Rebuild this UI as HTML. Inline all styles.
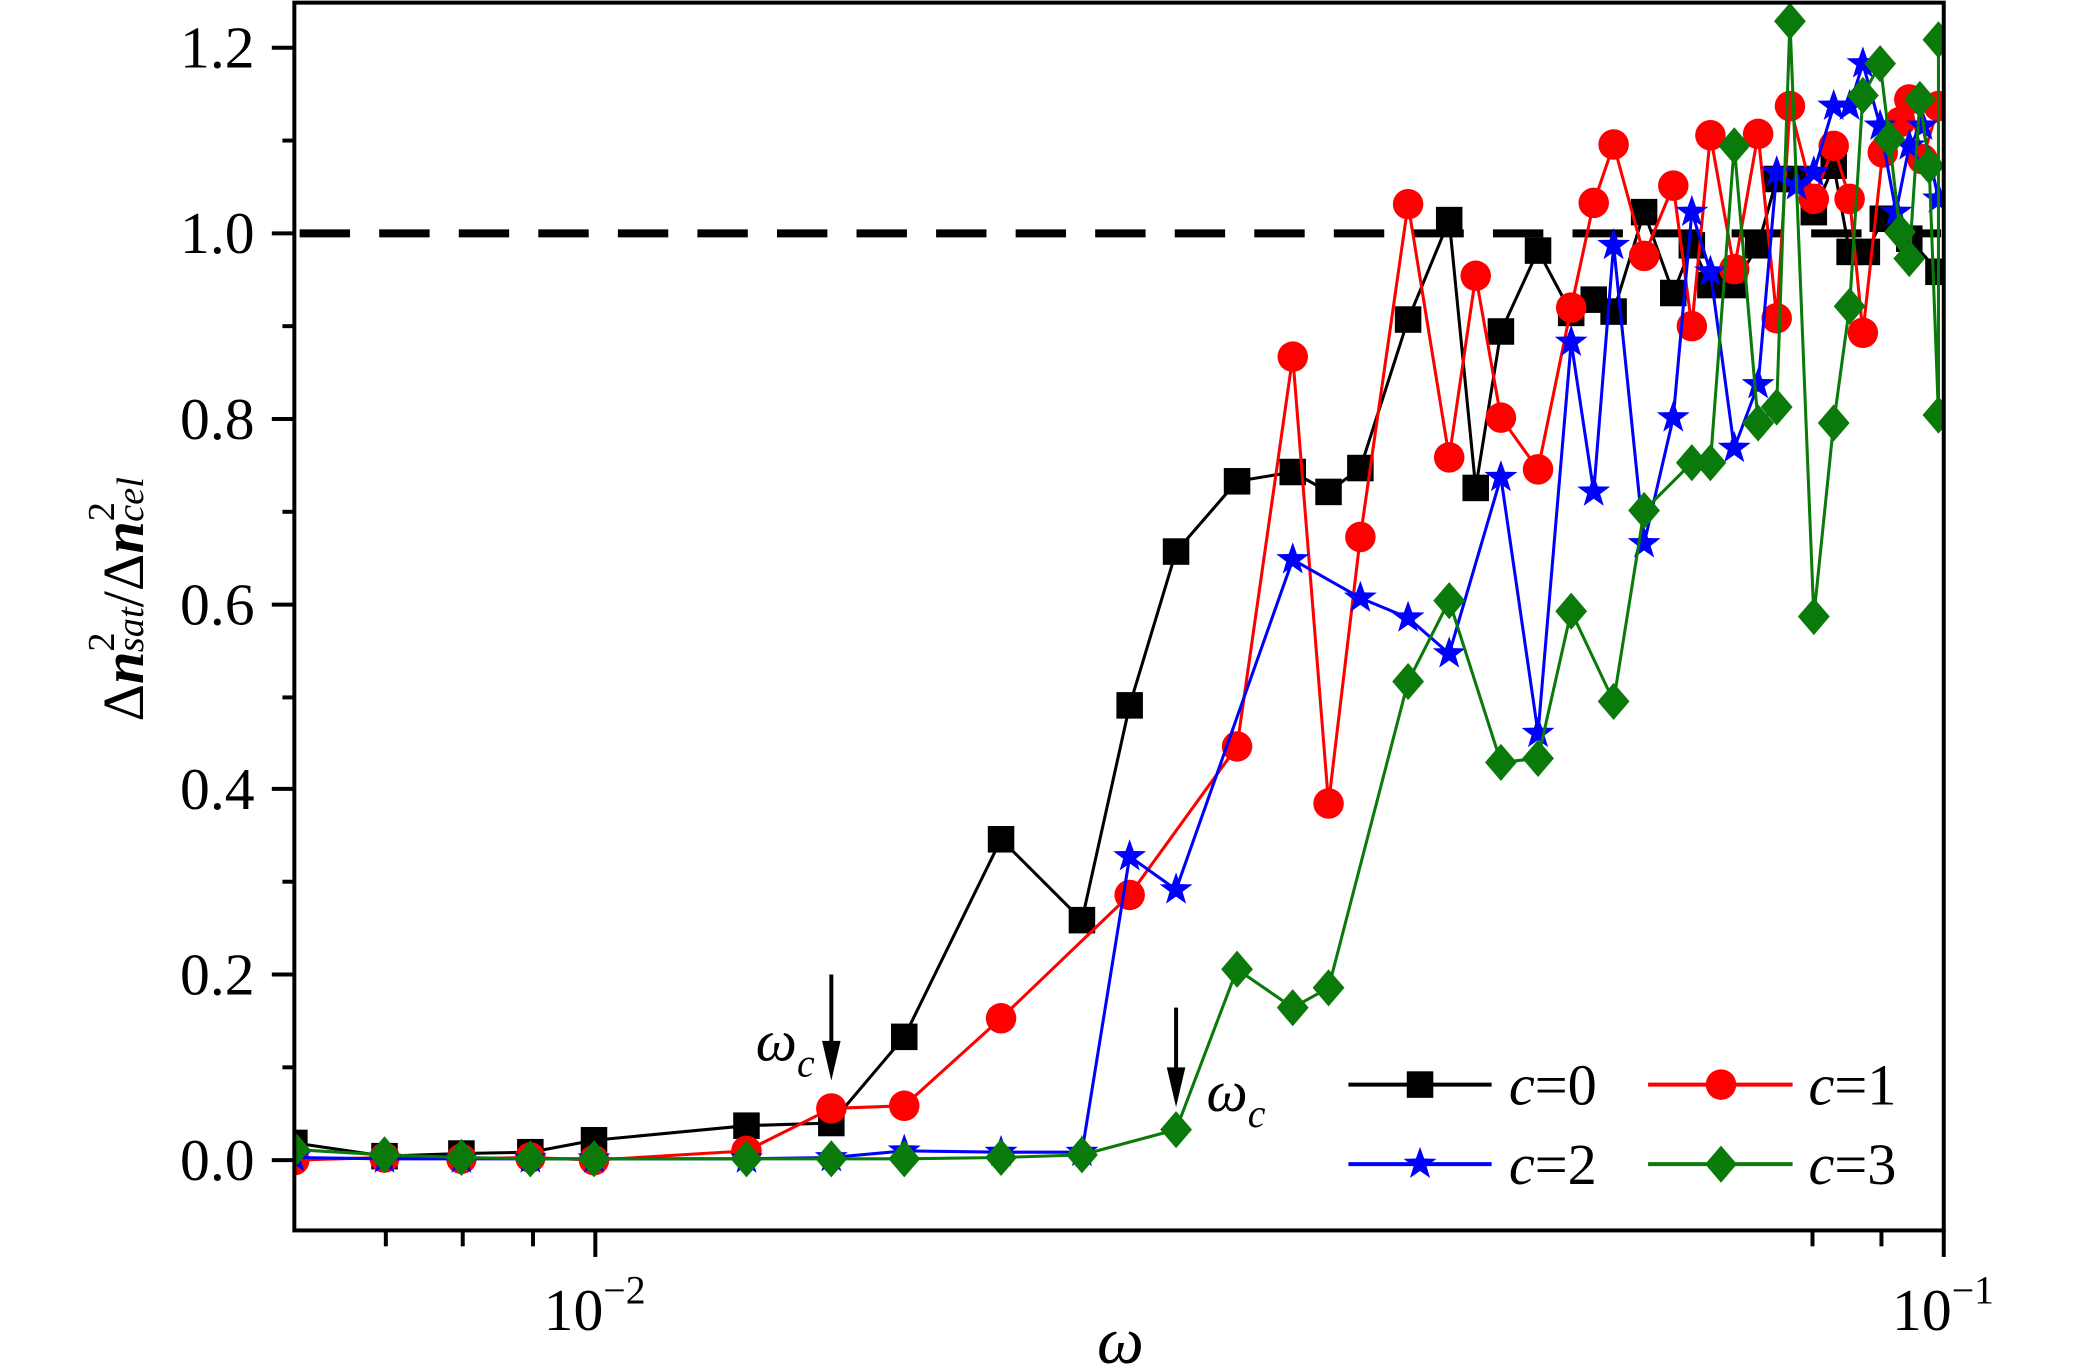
<!DOCTYPE html>
<html><head><meta charset="utf-8"><style>
html,body{margin:0;padding:0;background:#fff;}
svg{display:block;font-family:"Liberation Serif","Times New Roman",serif;}
svg text{font-family:"Liberation Serif","Times New Roman",serif;}
</style></head><body>
<svg width="2079" height="1365" viewBox="0 0 1568 1029.5" preserveAspectRatio="none" xmlns="http://www.w3.org/2000/svg" font-family="Liberation Serif, serif">
<defs>
<rect id="sq" x="-10" y="-10" width="20" height="20" fill="#000"/>
<circle id="ci" r="11.5" fill="#f00"/>
<polygon id="st" points="0,-13 3.1,-4.2 12.4,-4 4.9,1.6 7.6,10.5 0,5.2 -7.6,10.5 -4.9,1.6 -12.4,-4 -3.1,-4.2" fill="#00f"/>
<polygon id="di" points="0,-14 12,0 0,14 -12,0" fill="#0a7a0a"/>
<clipPath id="pc"><rect x="222" y="2" width="1244" height="926"/></clipPath>
</defs>
<rect x="0" y="0" width="1568" height="1030" fill="#fff"/>
<line x1="222" y1="176" x2="1466" y2="176" stroke="#000" stroke-width="6" stroke-dasharray="38,22" stroke-dashoffset="-4"/>
<g clip-path="url(#pc)" stroke-linejoin="round">
<polyline fill="none" stroke="#000" stroke-width="2.3" points="222,862 290,872 348,870 400,869 448,860 563,849 627,847 682,782 755,633 816,694 852,532 887,416 933,363 975,356 1002,371 1026,353 1062,241 1093,166 1113,368 1132,250 1160,189 1185,236 1202,226 1217,235 1240,160 1262,221 1276,185 1290,215 1308,215 1326,185 1340,135 1355,135 1368,160 1383,125 1395,190 1408,190 1420,165 1440,180 1462,205"/>
<g>
<use href="#sq" x="222" y="862"/><use href="#sq" x="290" y="872"/><use href="#sq" x="348" y="870"/><use href="#sq" x="400" y="869"/><use href="#sq" x="448" y="860"/><use href="#sq" x="563" y="849"/><use href="#sq" x="627" y="847"/><use href="#sq" x="682" y="782"/><use href="#sq" x="755" y="633"/><use href="#sq" x="816" y="694"/><use href="#sq" x="852" y="532"/><use href="#sq" x="887" y="416"/><use href="#sq" x="933" y="363"/><use href="#sq" x="975" y="356"/><use href="#sq" x="1002" y="371"/><use href="#sq" x="1026" y="353"/><use href="#sq" x="1062" y="241"/><use href="#sq" x="1093" y="166"/><use href="#sq" x="1113" y="368"/><use href="#sq" x="1132" y="250"/><use href="#sq" x="1160" y="189"/><use href="#sq" x="1185" y="236"/><use href="#sq" x="1202" y="226"/><use href="#sq" x="1217" y="235"/><use href="#sq" x="1240" y="160"/><use href="#sq" x="1262" y="221"/><use href="#sq" x="1276" y="185"/><use href="#sq" x="1290" y="215"/><use href="#sq" x="1308" y="215"/><use href="#sq" x="1326" y="185"/><use href="#sq" x="1340" y="135"/><use href="#sq" x="1355" y="135"/><use href="#sq" x="1368" y="160"/><use href="#sq" x="1383" y="125"/><use href="#sq" x="1395" y="190"/><use href="#sq" x="1408" y="190"/><use href="#sq" x="1420" y="165"/><use href="#sq" x="1440" y="180"/><use href="#sq" x="1462" y="205"/>
</g>
<polyline fill="none" stroke="#f00" stroke-width="2.3" points="222,875 290,873 348,874 400,873 448,875 563,868 627,836 682,834 755,768 852,675 933,563 975,269 1002,606 1026,405 1062,154 1093,345 1113,208 1132,315 1160,354 1185,232 1202,153 1217,109 1240,193 1262,140 1276,246 1290,102 1308,203 1326,101 1340,240 1350,80 1368,150 1383,110 1395,150 1405,251 1420,115 1433,92 1440,75 1450,120 1462,80"/>
<g>
<use href="#ci" x="222" y="875"/><use href="#ci" x="290" y="873"/><use href="#ci" x="348" y="874"/><use href="#ci" x="400" y="873"/><use href="#ci" x="448" y="875"/><use href="#ci" x="563" y="868"/><use href="#ci" x="627" y="836"/><use href="#ci" x="682" y="834"/><use href="#ci" x="755" y="768"/><use href="#ci" x="852" y="675"/><use href="#ci" x="933" y="563"/><use href="#ci" x="975" y="269"/><use href="#ci" x="1002" y="606"/><use href="#ci" x="1026" y="405"/><use href="#ci" x="1062" y="154"/><use href="#ci" x="1093" y="345"/><use href="#ci" x="1113" y="208"/><use href="#ci" x="1132" y="315"/><use href="#ci" x="1160" y="354"/><use href="#ci" x="1185" y="232"/><use href="#ci" x="1202" y="153"/><use href="#ci" x="1217" y="109"/><use href="#ci" x="1240" y="193"/><use href="#ci" x="1262" y="140"/><use href="#ci" x="1276" y="246"/><use href="#ci" x="1290" y="102"/><use href="#ci" x="1308" y="203"/><use href="#ci" x="1326" y="101"/><use href="#ci" x="1340" y="240"/><use href="#ci" x="1350" y="80"/><use href="#ci" x="1368" y="150"/><use href="#ci" x="1383" y="110"/><use href="#ci" x="1395" y="150"/><use href="#ci" x="1405" y="251"/><use href="#ci" x="1420" y="115"/><use href="#ci" x="1433" y="92"/><use href="#ci" x="1440" y="75"/><use href="#ci" x="1450" y="120"/><use href="#ci" x="1462" y="80"/>
</g>
<polyline fill="none" stroke="#00f" stroke-width="2.3" points="222,873 290,874 348,874 400,874 448,874 563,874 627,873 682,868 755,869 816,869 852,646 887,671 975,422 1026,451 1062,466 1093,493 1132,360 1160,553 1185,258 1202,371 1217,185 1240,410 1262,315 1276,160 1290,205 1308,338 1326,290 1340,130 1355,140 1368,130 1383,80 1395,80 1405,48 1418,95 1430,160 1440,110 1450,95 1462,150"/>
<g>
<use href="#st" x="222" y="873"/><use href="#st" x="290" y="874"/><use href="#st" x="348" y="874"/><use href="#st" x="400" y="874"/><use href="#st" x="448" y="874"/><use href="#st" x="563" y="874"/><use href="#st" x="627" y="873"/><use href="#st" x="682" y="868"/><use href="#st" x="755" y="869"/><use href="#st" x="816" y="869"/><use href="#st" x="852" y="646"/><use href="#st" x="887" y="671"/><use href="#st" x="975" y="422"/><use href="#st" x="1026" y="451"/><use href="#st" x="1062" y="466"/><use href="#st" x="1093" y="493"/><use href="#st" x="1132" y="360"/><use href="#st" x="1160" y="553"/><use href="#st" x="1185" y="258"/><use href="#st" x="1202" y="371"/><use href="#st" x="1217" y="185"/><use href="#st" x="1240" y="410"/><use href="#st" x="1262" y="315"/><use href="#st" x="1276" y="160"/><use href="#st" x="1290" y="205"/><use href="#st" x="1308" y="338"/><use href="#st" x="1326" y="290"/><use href="#st" x="1340" y="130"/><use href="#st" x="1355" y="140"/><use href="#st" x="1368" y="130"/><use href="#st" x="1383" y="80"/><use href="#st" x="1395" y="80"/><use href="#st" x="1405" y="48"/><use href="#st" x="1418" y="95"/><use href="#st" x="1430" y="160"/><use href="#st" x="1440" y="110"/><use href="#st" x="1450" y="95"/><use href="#st" x="1462" y="150"/>
</g>
<polyline fill="none" stroke="#0a7a0a" stroke-width="2.3" points="222,867 290,871 348,873 400,874 448,874 563,874 627,874 682,874 755,873 816,871 887,852 933,731 975,760 1002,745 1062,514 1093,453 1132,575 1160,572 1185,461 1217,529 1240,385 1276,349 1290,349 1308,110 1326,319 1340,307 1350,16 1368,465 1383,319 1395,231 1405,72 1418,48 1425,105 1433,175 1440,195 1448,75 1455,125 1462,313 1462,30"/>
<g>
<use href="#di" x="222" y="867"/><use href="#di" x="290" y="871"/><use href="#di" x="348" y="873"/><use href="#di" x="400" y="874"/><use href="#di" x="448" y="874"/><use href="#di" x="563" y="874"/><use href="#di" x="627" y="874"/><use href="#di" x="682" y="874"/><use href="#di" x="755" y="873"/><use href="#di" x="816" y="871"/><use href="#di" x="887" y="852"/><use href="#di" x="933" y="731"/><use href="#di" x="975" y="760"/><use href="#di" x="1002" y="745"/><use href="#di" x="1062" y="514"/><use href="#di" x="1093" y="453"/><use href="#di" x="1132" y="575"/><use href="#di" x="1160" y="572"/><use href="#di" x="1185" y="461"/><use href="#di" x="1217" y="529"/><use href="#di" x="1240" y="385"/><use href="#di" x="1276" y="349"/><use href="#di" x="1290" y="349"/><use href="#di" x="1308" y="110"/><use href="#di" x="1326" y="319"/><use href="#di" x="1340" y="307"/><use href="#di" x="1350" y="16"/><use href="#di" x="1368" y="465"/><use href="#di" x="1383" y="319"/><use href="#di" x="1395" y="231"/><use href="#di" x="1405" y="72"/><use href="#di" x="1418" y="48"/><use href="#di" x="1425" y="105"/><use href="#di" x="1433" y="175"/><use href="#di" x="1440" y="195"/><use href="#di" x="1448" y="75"/><use href="#di" x="1455" y="125"/><use href="#di" x="1462" y="313"/><use href="#di" x="1462" y="30"/>
</g>
</g>
<rect x="222" y="2" width="1244" height="926" fill="none" stroke="#000" stroke-width="3"/>
<g stroke="#000" stroke-width="3">
<line x1="205" y1="875" x2="222" y2="875"/><line x1="205" y1="735" x2="222" y2="735"/><line x1="205" y1="595" x2="222" y2="595"/><line x1="205" y1="456" x2="222" y2="456"/><line x1="205" y1="316" x2="222" y2="316"/><line x1="205" y1="176" x2="222" y2="176"/><line x1="205" y1="36" x2="222" y2="36"/>
<line x1="213" y1="805" x2="222" y2="805"/><line x1="213" y1="665" x2="222" y2="665"/><line x1="213" y1="526" x2="222" y2="526"/><line x1="213" y1="386" x2="222" y2="386"/><line x1="213" y1="246" x2="222" y2="246"/><line x1="213" y1="106" x2="222" y2="106"/>
<line x1="449" y1="928" x2="449" y2="948"/><line x1="1466" y1="928" x2="1466" y2="948"/>
<line x1="291" y1="928" x2="291" y2="940"/><line x1="349" y1="928" x2="349" y2="940"/><line x1="402" y1="928" x2="402" y2="940"/><line x1="1367" y1="928" x2="1367" y2="940"/><line x1="1419" y1="928" x2="1419" y2="940"/>
</g>
<g font-size="45" text-anchor="end" fill="#000" font-family="Liberation Serif, serif">
<text x="192" y="890">0.0</text><text x="192" y="750">0.2</text><text x="192" y="610">0.4</text><text x="192" y="471">0.6</text><text x="192" y="331">0.8</text><text x="192" y="191">1.0</text><text x="192" y="51">1.2</text>
</g>
<g font-size="45" fill="#000" font-family="Liberation Serif, serif">
<text x="410" y="1003">10<tspan font-size="30" dy="-20">−2</tspan></text>
<text x="1427" y="1003">10<tspan font-size="30" dy="-20">−1</tspan></text>
</g>
<text x="845" y="1028" font-size="50" font-style="italic" text-anchor="middle" font-family="Liberation Serif, serif">ω</text>
<text transform="translate(108,452) rotate(-90)" font-size="44" text-anchor="middle" font-family="Liberation Serif, serif">Δ<tspan font-style="italic" font-weight="bold">n</tspan><tspan font-size="29" dy="-22">2</tspan><tspan font-size="29" font-style="italic" dy="22" dx="-15">sat</tspan>/Δ<tspan font-style="italic" font-weight="bold">n</tspan><tspan font-size="29" dy="-22">2</tspan><tspan font-size="29" font-style="italic" dy="22" dx="-15">cel</tspan></text>
<line x1="627" y1="735" x2="627" y2="790" stroke="#000" stroke-width="3"/>
<polygon points="620,785 634,785 627,815" fill="#000"/>
<line x1="887" y1="760" x2="887" y2="810" stroke="#000" stroke-width="3"/>
<polygon points="880,805 894,805 887,835" fill="#000"/>
<text x="570" y="800" font-size="44" font-style="italic" font-family="Liberation Serif, serif">ω<tspan font-size="30" dy="12">c</tspan></text>
<text x="910" y="838" font-size="44" font-style="italic" font-family="Liberation Serif, serif">ω<tspan font-size="30" dy="12">c</tspan></text>
<g font-family="Liberation Serif, serif" font-size="44">
<line x1="1017" y1="818" x2="1125" y2="818" stroke="#000" stroke-width="3"/><use href="#sq" x="1071" y="818"/>
<text x="1138" y="833"><tspan font-style="italic">c</tspan>=0</text>
<line x1="1243" y1="818" x2="1352" y2="818" stroke="#f00" stroke-width="3"/><use href="#ci" x="1298" y="818"/>
<text x="1364" y="833"><tspan font-style="italic">c</tspan>=1</text>
<line x1="1017" y1="878" x2="1125" y2="878" stroke="#00f" stroke-width="3"/><use href="#st" x="1071" y="878"/>
<text x="1138" y="893"><tspan font-style="italic">c</tspan>=2</text>
<line x1="1243" y1="878" x2="1352" y2="878" stroke="#0a7a0a" stroke-width="3"/><use href="#di" x="1298" y="878"/>
<text x="1364" y="893"><tspan font-style="italic">c</tspan>=3</text>
</g>
</svg>
</body></html>
